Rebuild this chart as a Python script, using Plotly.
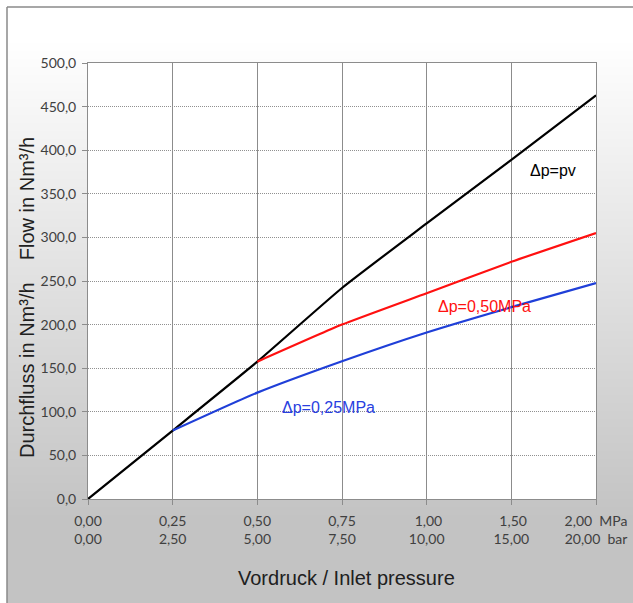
import plotly.graph_objects as go

# ---- data ----
x_pos = [0, 1, 2, 3, 4, 5, 6]
x_mpa = ["0,00", "0,25", "0,50", "0,75", "1,00", "1,50", "2,00"]
x_bar = ["0,00", "2,50", "5,00", "7,50", "10,00", "15,00", "20,00"]

pv_x = [0, 1, 2, 3, 4, 5, 6]
pv_y = [0, 78.5, 157.5, 242, 316, 389, 463]

p50_x = [2, 3, 4, 5, 6]
p50_y = [157.5, 200, 236, 272, 305]

p25_x = [1, 2, 3, 4, 5, 6]
p25_y = [78.5, 122, 158, 191, 220, 247.5]

# ---- layout geometry ----
W, H = 633, 603
L, R, T, B = 88, 37, 63, 104
pw, ph = W - L - R, H - T - B


def px(xp):
    return (xp - L) / pw


def py(yp):
    return (H - B - yp) / ph


fig = go.Figure()

line_w = 2.2
fig.add_trace(go.Scatter(x=pv_x, y=pv_y, mode="lines",
                         line=dict(color="#000000", width=line_w, shape="spline", smoothing=0.5),
                         hoverinfo="skip", showlegend=False))
fig.add_trace(go.Scatter(x=p50_x, y=p50_y, mode="lines",
                         line=dict(color="#ff1010", width=line_w, shape="spline", smoothing=0.5),
                         hoverinfo="skip", showlegend=False))
fig.add_trace(go.Scatter(x=p25_x, y=p25_y, mode="lines",
                         line=dict(color="#1f3fd8", width=line_w, shape="spline", smoothing=0.5),
                         hoverinfo="skip", showlegend=False))

# background gradient bands
shapes = []
y_start, y_end = 7, H
step = 4
y = y_start
while y < y_end:
    yc = y + step / 2
    t = min(max((yc - 40) / (520 - 40), 0), 1)
    v = int(round(255 - t * (255 - 195)))
    col = f"rgb({v},{v},{v})"
    shapes.append(dict(type="rect", xref="paper", yref="paper",
                       x0=px(7), x1=px(W + 2), y0=py(min(y + step + 0.6, y_end + 2)), y1=py(y),
                       fillcolor=col, line=dict(width=0), layer="below"))
    y += step
# white plot area
shapes.append(dict(type="rect", xref="paper", yref="paper", x0=0, x1=1, y0=0, y1=1,
                   fillcolor="white", line=dict(width=0), layer="below"))
# outer frame
shapes.append(dict(type="line", xref="paper", yref="paper", x0=px(7), x1=px(7),
                   y0=py(7), y1=py(H + 5), line=dict(color="#8a8a8a", width=1.5)))
shapes.append(dict(type="line", xref="paper", yref="paper", x0=px(7), x1=px(W + 5),
                   y0=py(7), y1=py(7), line=dict(color="#8a8a8a", width=1.5)))

ticktext = []
for i, (a, b) in enumerate(zip(x_mpa, x_bar)):
    if i == len(x_mpa) - 1:
        ticktext.append(f"{a}\u00a0\u00a0MPa<br>{b}\u00a0\u00a0bar")
    elif a.startswith("1"):
        ticktext.append(f"\u00a0{a}<br>{b}")
    else:
        ticktext.append(f"{a}<br>{b}")

tickfont = dict(family="Lato", size=14, color="#404040")
title_font = dict(family="Liberation Sans, Arial", size=20, color="#202020")
label_font = "Liberation Sans, Arial"

annotations = [
    dict(text="Vordruck / Inlet pressure", xref="paper", yref="paper",
         x=px(346), y=py(578), xanchor="center", yanchor="middle",
         showarrow=False, font=title_font),
    dict(text="Durchfluss in Nm³/h\u00a0\u00a0\u00a0\u00a0Flow in Nm³/h", xref="paper", yref="paper",
         x=px(27), y=py(298), xanchor="center", yanchor="middle", textangle=-90,
         showarrow=False, font=title_font),
    dict(text="Δp=pv", x=(528 - L) / pw * 6, y=(H - B - 170) / ph * 500,
         xanchor="left", yanchor="middle", showarrow=False,
         font=dict(family=label_font, size=16, color="#000000")),
    dict(text="Δp=0,50MPa", x=(436 - L) / pw * 6, y=(H - B - 306) / ph * 500,
         xanchor="left", yanchor="middle", showarrow=False,
         font=dict(family=label_font, size=16, color="#ff1010")),
    dict(text="Δp=0,25MPa", x=(280 - L) / pw * 6, y=(H - B - 407) / ph * 500,
         xanchor="left", yanchor="middle", showarrow=False,
         font=dict(family=label_font, size=16, color="#2a3fe0")),
]

fig.update_layout(
    width=W, height=H,
    margin=dict(l=L, r=R, t=T, b=B, pad=0, autoexpand=False),
    paper_bgcolor="white",
    plot_bgcolor="white",
    separators=",.",
    shapes=shapes,
    annotations=annotations,
    showlegend=False,
    xaxis=dict(range=[0, 6], tickvals=x_pos, ticktext=ticktext, automargin=False,
               showgrid=True, gridcolor="#8c8c8c", gridwidth=1,
               showline=True, linecolor="#8c8c8c", linewidth=1, mirror=True,
               ticks="outside", ticklen=5, tickcolor="#8c8c8c",
               tickfont=tickfont, zeroline=False, fixedrange=True,
               ticklabelstandoff=4),
    yaxis=dict(range=[0, 500], tick0=0, dtick=50, tickformat=".1f", automargin=False,
               showgrid=True, gridcolor="#909090", gridwidth=1, griddash="1px,1px",
               showline=True, linecolor="#8c8c8c", linewidth=1, mirror=True,
               ticks="outside", ticklen=5, tickcolor="#8c8c8c",
               tickfont=tickfont, zeroline=False, fixedrange=True,
               ticklabelstandoff=3),
)

fig.write_html("out.html")
